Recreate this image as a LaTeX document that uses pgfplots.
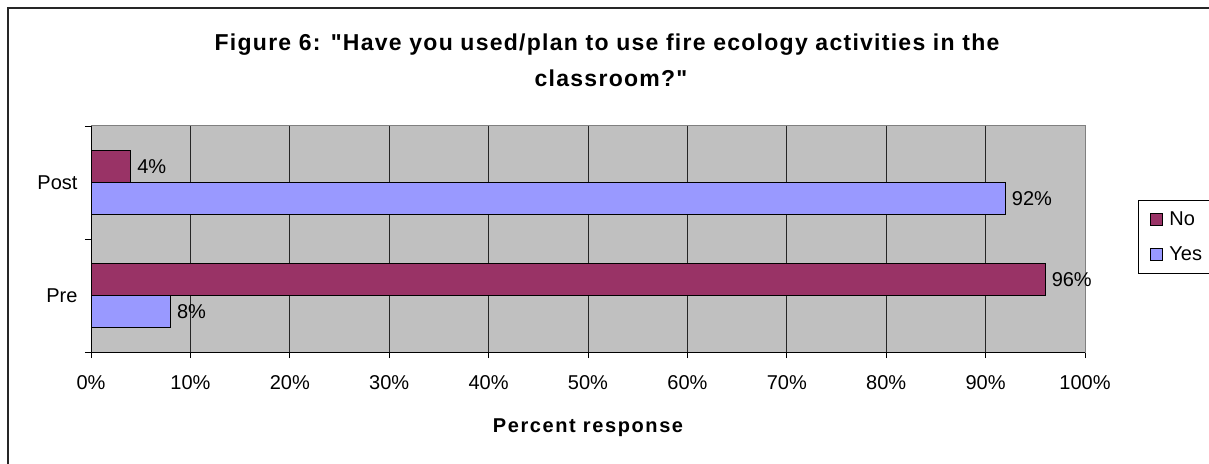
\documentclass[border=0pt]{standalone}
\usepackage{fontspec}
\setmainfont{Liberation Sans}
\newfontfamily\titlefont[LetterSpace=5.5]{Liberation Sans}
\newfontfamily\labfont[LetterSpace=8]{Liberation Sans}
\usepackage{pgfplots}
\pgfplotsset{compat=1.18}
\definecolor{noc}{HTML}{993366}
\definecolor{yesc}{HTML}{9999FF}
\definecolor{plotbg}{HTML}{C0C0C0}
\definecolor{boxgray}{HTML}{808080}

\begin{document}
\begin{tikzpicture}[x=1pt,y=1pt]
\useasboundingbox (0,0) rectangle (1209,463);
\draw[line width=1.5pt, black!85] (8,-5) -- (8,455) -- (1220,455);
\node[font=\fontsize{23}{27}\selectfont\titlefont\bfseries, anchor=base] at (607,412) {Figure 6: "Have you used/plan to use fire ecology activities in the};
\node[font=\fontsize{23}{27}\selectfont\titlefont\bfseries, anchor=base] at (611,376) {classroom?"};
\begin{axis}[
  at={(91pt,111pt)}, anchor=south west,
  width=994pt, height=226pt, scale only axis,
  xbar, bar width=32pt,
  xmin=0, xmax=100, ymin=-0.5, ymax=1.5,
  axis background/.style={fill=plotbg},
  axis line style={draw=boxgray, line width=1pt},
  xtick={0,10,...,100},
  xtick pos=bottom, ytick pos=left,
  /pgf/number format/assume math mode=true,
  xticklabel={\pgfmathprintnumber{\tick}\%},
  ytick={-0.5,0.5,1.5}, yticklabels={},
  extra y ticks={0,1}, extra y tick labels={Pre,Post},
  extra y tick style={major tick length=0pt},
  tick align=outside, major tick length=6pt,
  tick style={black, line width=0.8pt},
  xmajorgrids, major grid style={black!85, line width=0.8pt},
  ticklabel style={font=\fontsize{20}{24}\selectfont},
  xticklabel style={yshift=-14pt},
  yticklabel style={xshift=-10pt},
  xlabel={\labfont\bfseries Percent response},
  xlabel style={font=\fontsize{20}{24}\selectfont, yshift=-22pt},
  nodes near coords={\pgfmathprintnumber{\pgfplotspointmeta}\%},
  nodes near coords style={font=\fontsize{20}{24}\selectfont, black, anchor=west, inner xsep=6pt},
  point meta=explicit,
  legend style={at={(1.0533,0.6726)}, anchor=north west, draw=black, line width=0.8pt,
    font=\fontsize{20}{24}\selectfont, row sep=16pt, inner xsep=12pt, inner ysep=9pt,
    cells={anchor=west}, /tikz/every odd column/.append style={column sep=4pt}},
  legend image code/.code={\draw[#1, draw=black, line width=1pt] (0pt,-6pt) rectangle (12pt,6pt);},
]
\addplot[fill=noc, draw=black, line width=1pt, bar shift=16pt] coordinates {(96,0) [96] (4,1) [4]};
\addlegendentry{No\hspace*{30pt}}
\addplot[fill=yesc, draw=black, line width=1pt, bar shift=-16pt] coordinates {(8,0) [8] (92,1) [92]};
\addlegendentry{Yes}
\draw[black, line width=1pt] (rel axis cs:0,1) -- (rel axis cs:0,0) -- (rel axis cs:1,0);
\end{axis}
\end{tikzpicture}
\end{document}
